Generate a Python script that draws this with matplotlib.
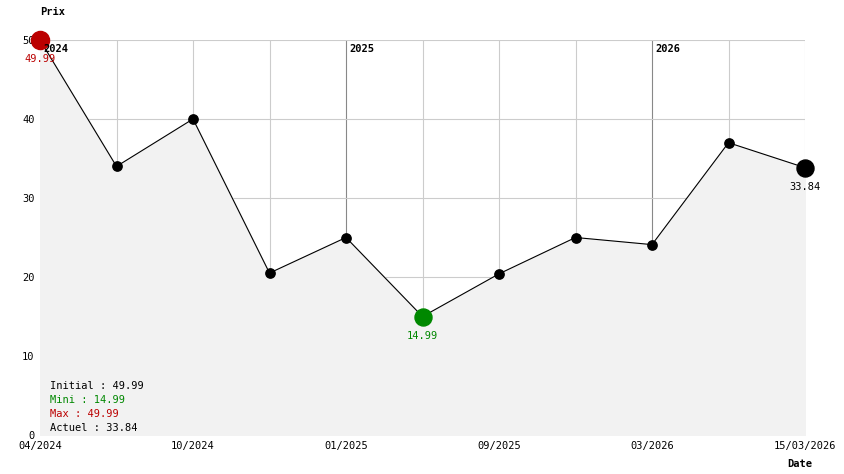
import matplotlib
matplotlib.use('Agg')
import matplotlib.pyplot as plt

# Data
prices = [49.99, 34.0, 40.0, 20.5, 25.0, 14.99, 20.4, 25.0, 24.1, 37.0, 33.84]
tick_idx = [0, 2, 4, 6, 8, 10]
tick_labels = ['04/2024', '10/2024', '01/2025', '09/2025', '03/2026', '15/03/2026']
year_idx = [0, 4, 8]
year_labels = ['2024', '2025', '2026']

FONT = 'DejaVu Sans Mono'
plt.rcParams['font.family'] = FONT
plt.rcParams['font.size'] = 7.5

fig = plt.figure(figsize=(8.44, 4.74), dpi=100)
ax = fig.add_axes([40/844, 1-435/474, 765/844, 395/474])
x = list(range(len(prices)))

ax.fill_between(x, prices, 0, color='#f2f2f2', zorder=1)
for i in x:
    c = '#888888' if i in year_idx[1:] else '#cccccc'
    ax.axvline(i, color=c, lw=0.8, zorder=0)
for v in range(10, 51, 10):
    ax.axhline(v, color='#cccccc', lw=0.8, zorder=0)

ax.plot(x, prices, color='black', lw=0.8, zorder=3, clip_on=False)
ax.scatter(x, prices, s=45, color='black', zorder=4, clip_on=False)

imax = prices.index(max(prices))
imin = prices.index(min(prices))
ax.scatter([imax], [prices[imax]], s=170, color='#bb0000', zorder=5, clip_on=False)
ax.scatter([imin], [prices[imin]], s=150, color='#008800', zorder=5, clip_on=False)
ax.scatter([x[-1]], [prices[-1]], s=150, color='black', zorder=5, clip_on=False)
ax.text(imax, prices[imax]-2.4, f'{prices[imax]:.2f}', color='#bb0000', ha='center', va='center', zorder=6)
ax.text(imin, prices[imin]-2.4, f'{prices[imin]:.2f}', color='#008800', ha='center', va='center')
ax.text(x[-1], prices[-1]-2.4, f'{prices[-1]:.2f}', color='black', ha='center', va='center')

for i, lab in zip(year_idx, year_labels):
    ax.text(i + 0.04, 48.8, lab, fontweight='bold', ha='left', va='center', zorder=6)

ax.set_xlim(0, 10)
ax.set_ylim(0, 50)
ax.set_xticks(tick_idx)
ax.set_xticklabels(tick_labels)
ax.set_yticks(range(0, 51, 10))
ax.tick_params(length=0, pad=4)
for s in ax.spines.values():
    s.set_visible(False)

fig.text(40/844, 1-12/474, 'Prix', fontweight='bold', ha='left', va='center')
fig.text(812/844, 1-464/474, 'Date', fontweight='bold', ha='right', va='center')

legend_lines = [('Initial : %.2f' % prices[0], 'black'),
                ('Mini : %.2f' % min(prices), '#008800'),
                ('Max : %.2f' % max(prices), '#bb0000'),
                ('Actuel : %.2f' % prices[-1], 'black')]
for k, (t, c) in enumerate(legend_lines):
    fig.text(50/844, 1-(386 + k*14)/474, t, color=c, ha='left', va='center')

fig.savefig('out.png', dpi=100)
